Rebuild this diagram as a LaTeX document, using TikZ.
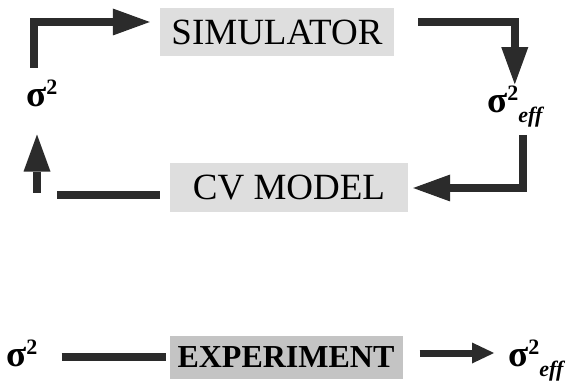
\documentclass[tikz,border=0pt]{standalone}
\usepackage{fontspec}
\setmainfont{Liberation Serif}
\usetikzlibrary{arrows.meta,positioning,calc}
\definecolor{figBox}{HTML}{DEDEDE}
\definecolor{figBoxDark}{HTML}{C4C4C4}
\definecolor{figArrow}{HTML}{2B2B2B}
\newcommand{\sigsq}{{\fontsize{37}{37}\selectfont\bfseries σ}\raisebox{12pt}{\fontsize{22}{22}\selectfont\bfseries 2}}
\newcommand{\effsub}{\raisebox{-10pt}{\fontsize{22}{22}\selectfont\bfseries\itshape eff}}

\begin{document}
\begin{tikzpicture}[x=1pt,y=-1pt,
  procbox/.style={fill=figBox,inner sep=0pt,minimum width=234pt,minimum height=48pt,
                  font=\fontsize{37}{37}\selectfont},
  lbl/.style={inner sep=0pt,anchor=base west},
  arr/.style={-{Triangle[length=37pt,width=27pt,line width=0pt]},figArrow,line width=7.5pt},
  arrs/.style={-{Triangle[length=22pt,width=21pt,line width=0pt]},figArrow,line width=7pt},
  bar/.style={figArrow,line width=7.5pt}
]
\useasboundingbox (0,0) rectangle (581,382);

% ---- Boxes ----
\node[procbox] (sim) at (277,32) {SIMULATOR};
\node[procbox,minimum width=238pt,minimum height=49pt] (cv) at (289,188) {CV MODEL};
\node[procbox,fill=figBoxDark,minimum width=233pt,minimum height=43pt,
      font=\fontsize{32}{32}\selectfont\bfseries] (exp) at (286,357) {EXPERIMENT};

% ---- Labels ----
\node[lbl] (sigA) at (26,107) {\sigsq};
\node[lbl] (effA) at (487,113) {\sigsq\effsub};
\node[lbl] (sigB) at (6,366) {\sigsq};
\node[lbl] (effB) at (508,366) {\sigsq\effsub};

% ---- Loop ----
\coordinate (tlc) at (34,68);
\coordinate (rtc) at (523,135);
\coordinate (lbc) at (57,195);
\coordinate (luc) at (37,193);
\draw[arr] (tlc) |- ([xshift=-10pt,yshift=10pt]sim.west);
\draw[arr,shorten >=2pt] ([xshift=24pt,yshift=10pt]sim.east) -| (effA.north);
\draw[arr] (rtc) |- ([xshift=5pt]cv.east);
\draw[bar] ([xshift=-10pt,yshift=-7pt]cv.west) -- (lbc);
\draw[arr,shorten >=27pt] (luc) -- (luc |- sigA.south);

% ---- Experiment row ----
\draw[bar,shorten <=24pt,shorten >=3pt] (sigB.east |- exp.west) -- (exp.west);
\draw[arrs,shorten <=17pt,shorten >=14pt] ([yshift=4pt]exp.east) -- ([yshift=4pt]exp.east -| effB.west);
\end{tikzpicture}
\end{document}
